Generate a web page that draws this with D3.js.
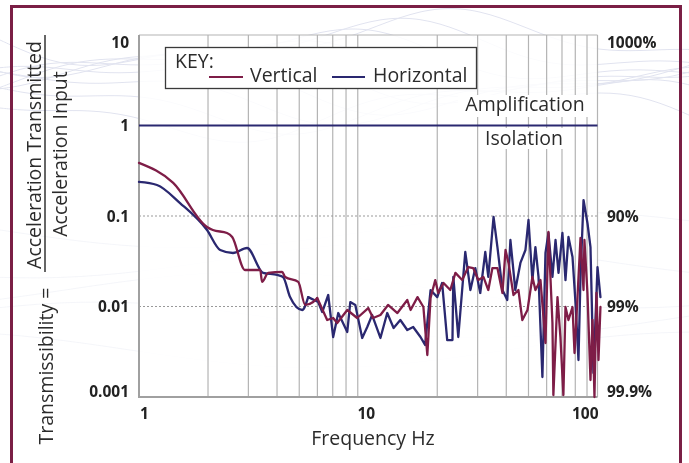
<!DOCTYPE html>
<html><head><meta charset="utf-8">
<script src="https://cdn.jsdelivr.net/npm/d3@7"></script>
<style>
html,body{margin:0;padding:0;background:#fff;}
svg{display:block;font-family:"Open Sans","Noto Sans",sans-serif;}
</style></head>
<body>
<svg id="c" width="689" height="463"></svg>
<script>
// ---- data ----
const verticalFreq = [1,1.41,1.98,2.10,2.42,2.55,2.90,3.38,3.44,3.66,4.21,4.34,4.95,5.31,5.75,5.99,6.62,7.03,7.32,8.10,8.95,10,10.5,11.3,12.2,13.4,14.8,15.3,16.4,17.4,18.1,18.7,19.6,20.2,21.3,22.8,24.0,25.7,27.3,28.7,30.2,31.8,33.4,34.8,36.6,38.5,39.7,40.9,43.0,45.2,47.0,49.5,52.0,53.6,56.4,59.3,61.1,63.6,64.2,66.9,68.9,71.0,72.5,74.7,77.8,79.4,81.8,84.3,86.9,87.7,90.4,93.2,95.1,97.0,99.0,101,103];
const verticalValue = [0.386,0.232,0.0756,0.070,0.0649,0.0586,0.0253,0.0253,0.0187,0.0235,0.0241,0.0212,0.0187,0.0104,0.0112,0.0124,0.00709,0.00746,0.00657,0.00915,0.00746,0.00962,0.00746,0.00805,0.0104,0.00847,0.0118,0.00915,0.0127,0.00987,0.00291,0.0124,0.0196,0.0141,0.0182,0.0152,0.0235,0.0196,0.0273,0.0266,0.0196,0.0212,0.0152,0.0266,0.0266,0.0141,0.0421,0.0303,0.0134,0.0152,0.00709,0.00915,0.0212,0.0152,0.0196,0.00395,0.0666,0.00657,0.00105,0.0127,0.0046,0.00105,0.00987,0.00709,0.00987,0.00306,0.0127,0.0571,0.0152,0.0543,0.0141,0.00154,0.00709,0.001,0.0141,0.00256,0.00987];
const horizontalFreq = [1,1.198,1.51,1.98,2.26,2.57,2.96,3.48,4.01,4.25,4.56,5.15,5.47,6.05,6.30,6.69,7.03,7.40,8.10,8.35,8.78,9.41,9.90,10.4,11.3,12.1,12.9,13.8,14.8,15.7,16.9,17.7,18.7,20.0,21.0,22.1,23.3,23.5,24.7,26.5,27.9,29.3,30.8,32.4,33.4,35.2,36.6,38.5,40.4,41.7,43.8,46.1,48.5,50.0,52.0,53.6,55.3,57.5,59.3,61.1,63.6,65.6,67.6,70.3,72.5,74.7,77.8,80.2,82.6,84.3,86.9,90.4,93.2,96.0,100,103];
const horizontalValue = [0.238,0.220,0.139,0.070,0.0421,0.039,0.0443,0.0235,0.0223,0.0212,0.0127,0.00915,0.0127,0.0112,0.00869,0.0134,0.0046,0.00847,0.00523,0.0112,0.0104,0.00449,0.00593,0.00805,0.00449,0.00847,0.00578,0.00709,0.0055,0.00593,0.0046,0.00376,0.0152,0.0127,0.0182,0.00426,0.00426,0.0212,0.0046,0.040,0.0152,0.0266,0.0141,0.040,0.0212,0.0975,0.0454,0.0152,0.0118,0.0543,0.0152,0.0303,0.0421,0.0903,0.0196,0.0454,0.0212,0.00166,0.039,0.0649,0.0212,0.0543,0.0235,0.0649,0.0196,0.0586,0.0352,0.0109,0.00256,0.0212,0.150,0.0837,0.0454,0.00184,0.0273,0.0127];
const leftTickValues = [10,1,0.1,0.01,0.001];
const leftTickLabels = ["10","1","0.1","0.01","0.001"];
const rightTickValues = [10,0.1,0.01,0.001];
const rightTickLabels = ["1000%","90%","99%","99.9%"];
const xTickValues = [1,10,100];
const xTickLabels = ["1","10","100"];
const gridFreqs = [2,3,4,5,6,7,8,9,20,30,40,50,60,70,80,90,100];
const dottedValues = [0.1,0.01];
const seriesNames = ["Vertical","Horizontal"];
const smoothUpTo = 6; // below this frequency the measured curves are smooth

// ---- styles ----
const maroon = "#7e1d47", navy = "#2a2870", txt = "#2b2b2b", grid = "#b4b4b4";
const svg = d3.select("#c");
const L = 139, R = 597.5, T = 35, B = 397;
const x = d3.scaleLog().domain([1,100]).range([L,R]);
const y = d3.scaleLog().domain([0.001,10]).range([B,T]);

// background faint waves (decoration only)
const waves = svg.append("g").attr("fill","none").attr("stroke","#c9cde3").attr("stroke-width",1).attr("opacity",0.55);
for (let k=0;k<9;k++){
  const pts = d3.range(0,720,20).map(px => [px, 40 + k*9 + 22*Math.sin(px/95 + k*0.7) + 10*Math.sin(px/41 + k)]);
  waves.append("path").attr("d", d3.line().curve(d3.curveBasis)(pts));
}
for (let k=0;k<5;k++){
  const pts = d3.range(0,720,20).map(px => [px, 230 + k*30 + 18*Math.sin(px/120 + k*1.3)]);
  waves.append("path").attr("d", d3.line().curve(d3.curveBasis)(pts)).attr("opacity",0.35);
}

// frame border
svg.append("path").attr("d","M11.5,463V6.5H680.5V463").attr("fill","none").attr("stroke","#7a1f45").attr("stroke-width",3);

// plot background
svg.append("rect").attr("x",L).attr("y",T).attr("width",R-L).attr("height",B-T).attr("fill","#fff").attr("opacity",0.85);

// vertical grid
svg.append("g").selectAll("line").data(gridFreqs).join("line")
  .attr("x1",d=>x(d)).attr("x2",d=>x(d)).attr("y1",T).attr("y2",B)
  .attr("stroke",grid).attr("stroke-width",1.2);
// dotted horizontal grid
svg.append("g").selectAll("line").data(dottedValues).join("line")
  .attr("x1",L).attr("x2",R).attr("y1",d=>y(d)).attr("y2",d=>y(d))
  .attr("stroke","#999").attr("stroke-width",1).attr("stroke-dasharray","2,2");
svg.append("line").attr("x1",L).attr("x2",R).attr("y1",T).attr("y2",T).attr("stroke",grid).attr("stroke-width",1.2);
svg.append("path").attr("d",`M${L},${T}V${B}H${R}`).attr("fill","none").attr("stroke","#a0a0a0").attr("stroke-width",2);

// legend box
const lg = svg.append("g");
lg.append("rect").attr("x",165.5).attr("y",47.5).attr("width",311).attr("height",41).attr("fill","#fff").attr("stroke","#3a3a3a").attr("stroke-width",1.3);
lg.append("text").attr("x",175).attr("y",68).attr("font-size",19.5).attr("fill",txt).text("KEY:");
lg.append("line").attr("x1",209).attr("x2",243).attr("y1",77).attr("y2",77).attr("stroke",maroon).attr("stroke-width",2);
lg.append("text").attr("x",250).attr("y",82).attr("font-size",19.5).attr("fill",txt).text(seriesNames[0]);
lg.append("line").attr("x1",332).attr("x2",365).attr("y1",77).attr("y2",77).attr("stroke",navy).attr("stroke-width",2);
lg.append("text").attr("x",373).attr("y",82).attr("font-size",19.5).attr("fill",txt).text(seriesNames[1]);

// amplification / isolation labels
svg.append("rect").attr("x",458).attr("y",95).attr("width",134).attr("height",22).attr("fill","#fff");
svg.append("text").attr("x",525).attr("y",111).attr("text-anchor","middle").attr("font-size",19.5).attr("fill",txt).text("Amplification");
svg.append("rect").attr("x",483).attr("y",128).attr("width",82).attr("height",21).attr("fill","#fff");
svg.append("text").attr("x",524).attr("y",145).attr("text-anchor","middle").attr("font-size",19.5).attr("fill",txt).text("Isolation");

// unity line
svg.append("line").attr("x1",L).attr("x2",R).attr("y1",y(1)).attr("y2",y(1)).attr("stroke",navy).attr("stroke-width",2);

// data lines: smooth low-frequency part + jagged measured part
const smooth = d3.line().x(d=>x(d[0])).y(d=>y(d[1])).curve(d3.curveMonotoneX);
const jagged = d3.line().x(d=>x(d[0])).y(d=>y(d[1]));
function drawSeries(freqs, vals, color){
  const data = freqs.map((f,i)=>[f,vals[i]]);
  const lo = data.filter(d=>d[0]<=smoothUpTo);
  const hi = data.filter(d=>d[0]>=lo[lo.length-1][0]);
  const g = svg.append("g").attr("fill","none").attr("stroke",color).attr("stroke-width",2.3).attr("stroke-linejoin","round").attr("stroke-linecap","round");
  g.append("path").attr("d",smooth(lo));
  g.append("path").attr("d",jagged(hi));
}
drawSeries(horizontalFreq, horizontalValue, navy);
drawSeries(verticalFreq, verticalValue, maroon);

// left tick labels
svg.append("g").selectAll("text").data(leftTickValues).join("text")
  .attr("x",129).attr("y",d=>Math.max(42,Math.min(391,y(d)))).attr("dy","0.36em")
  .attr("text-anchor","end").attr("font-size",15.5).attr("font-weight","bold").attr("fill","#222")
  .text((d,i)=>leftTickLabels[i]);
// right tick labels
svg.append("g").selectAll("text").data(rightTickValues).join("text")
  .attr("x",607).attr("y",d=>Math.max(42,Math.min(391,y(d)))).attr("dy","0.36em")
  .attr("text-anchor","start").attr("font-size",15.5).attr("font-weight","bold").attr("fill","#222")
  .text((d,i)=>rightTickLabels[i]);
// x tick labels
svg.append("g").selectAll("text").data(xTickValues).join("text")
  .attr("x",(d,i)=> i===0 ? x(d)+1 : (i===2 ? x(d)+1 : x(d)-2))
  .attr("y",419)
  .attr("text-anchor",(d,i)=> i===0 ? "start" : (i===2 ? "end" : "middle"))
  .attr("font-size",15.5).attr("font-weight","bold").attr("fill","#222")
  .text((d,i)=>xTickLabels[i]);

// x axis title
svg.append("text").attr("x",373).attr("y",445).attr("text-anchor","middle").attr("font-size",19.5).attr("fill",txt).text("Frequency Hz");

// y axis title (fraction)
svg.append("text").attr("transform","translate(41,155) rotate(-90)").attr("text-anchor","middle").attr("font-size",19.5).attr("fill",txt).text("Acceleration Transmitted");
svg.append("text").attr("transform","translate(67,154) rotate(-90)").attr("text-anchor","middle").attr("font-size",19.5).attr("fill",txt).text("Acceleration Input");
svg.append("line").attr("x1",45).attr("x2",45).attr("y1",35).attr("y2",272).attr("stroke","#333").attr("stroke-width",1.5);
svg.append("text").attr("transform","translate(53,366) rotate(-90)").attr("text-anchor","middle").attr("font-size",19.5).attr("fill",txt).text("Transmissibility =");
</script>
</body></html>
